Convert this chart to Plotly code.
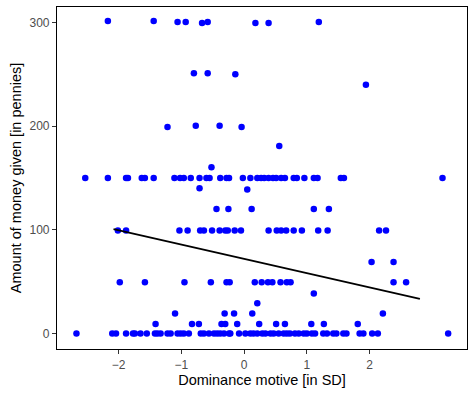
import plotly.graph_objects as go

# Dominance motive (x, SD units) for each amount given (pennies)
x_300 = [-2.17, -1.44, -1.06, -0.93, -0.67, -0.58, 0.18, 0.39, 1.19]
y_300 = [301.5, 301.5, 300.6, 300.6, 299.6, 300.6, 299.6, 299.6, 300.6]
x_250 = [-0.80, -0.58, -0.14]
y_250 = [251, 251, 250]
x_240 = [1.94]
y_240 = [240]
x_200 = [-1.22, -0.77, -0.39, -0.04]
y_200 = [199.3, 200.3, 200.3, 199.3]
x_180 = [0.56]
y_180 = [180.8]
x_160 = [-0.52]
y_160 = [160.4]
x_150 = [-2.53, -2.17, -1.88, -1.85, -1.63, -1.58, -1.44, -1.11, -1.02, -0.96,
         -0.85, -0.71, -0.60, -0.55, -0.38, -0.28, -0.24, -0.02, 0.10, 0.21,
         0.27, 0.32, 0.39, 0.46, 0.51, 0.59, 0.65, 0.79, 0.84, 0.96,
         1.11, 1.17, 1.54, 1.59, 3.16]
y_150 = [150] * len(x_150)
x_140 = [-0.71, 0.05]
y_140 = [140, 139]
x_120 = [-0.44, -0.25, 0.12, 1.11, 1.35]
y_120 = [120] * len(x_120)
x_100 = [-2.01, -1.88, -1.03, -0.90, -0.70, -0.64, -0.51, -0.39, -0.30, -0.26,
         -0.15, -0.05, 0.39, 0.52, 0.59, 0.67, 0.79, 0.92, 1.18, 1.33,
         2.15, 2.26]
y_100 = [99.3] * len(x_100)
x_70 = [2.03, 2.38]
y_70 = [69, 69]
x_50 = [-1.98, -1.58, -0.95, -0.53, -0.28, -0.23, 0.17, 0.28, 0.38, 0.45,
        0.58, 0.68, 0.74, 2.38, 2.58]
y_50 = [49.5] * len(x_50)
x_40 = [1.11]
y_40 = [38.6]
x_30 = [0.21]
y_30 = [29.2]
x_20 = [-1.10, -0.31, -0.16, 0.13, 2.21]
y_20 = [19.3] * len(x_20)
x_10 = [-1.41, -0.83, -0.72, -0.36, -0.30, -0.11, 0.24, 0.51, 0.65, 1.07,
        1.27, 1.81]
y_10 = [9.1] * len(x_10)
x_0 = [-2.67, -2.10, -2.04, -1.88, -1.77, -1.74, -1.65, -1.55, -1.42, -1.38,
       -1.33, -1.22, -1.17, -1.06, -1.01, -0.96, -0.88, -0.69, -0.64, -0.56,
       -0.48, -0.43, -0.38, -0.32, -0.24, -0.22, -0.08, 0.02, 0.10, 0.15,
       0.21, 0.29, 0.34, 0.42, 0.47, 0.55, 0.63, 0.68, 0.73, 0.81,
       0.87, 0.95, 1.00, 1.08, 1.13, 1.26, 1.32, 1.42, 1.47, 1.58,
       1.63, 1.84, 1.90, 2.04, 2.13, 3.25]
y_0 = [0] * len(x_0)

# Fitted line
line_x = [-2.08, 2.80]
line_y = [100.6, 33.4]

x_ticks = [-2, -1, 0, 1, 2]
y_ticks = [0, 100, 200, 300]

xs = (x_300 + x_250 + x_240 + x_200 + x_180 + x_160 + x_150 + x_140 + x_120
      + x_100 + x_70 + x_50 + x_40 + x_30 + x_20 + x_10 + x_0)
ys = (y_300 + y_250 + y_240 + y_200 + y_180 + y_160 + y_150 + y_140 + y_120
      + y_100 + y_70 + y_50 + y_40 + y_30 + y_20 + y_10 + y_0)

fig = go.Figure()
fig.add_trace(go.Scatter(
    x=xs, y=ys, mode="markers",
    marker=dict(color="#0000FF", size=6.5, line=dict(width=0)),
    showlegend=False, hoverinfo="skip"))
fig.add_trace(go.Scatter(
    x=line_x, y=line_y, mode="lines",
    line=dict(color="black", width=1.8),
    showlegend=False, hoverinfo="skip"))

axis_common = dict(
    showgrid=False, zeroline=False, automargin=False,
    showline=True, mirror=True, linecolor="black", linewidth=1.2,
    ticks="outside", ticklen=4, tickwidth=1, tickcolor="#333333",
    tickfont=dict(family="Liberation Sans, Arial, sans-serif", size=12, color="#4D4D4D"),
)

fig.update_layout(
    width=475, height=396,
    margin=dict(l=57, r=8, t=7, b=47),
    paper_bgcolor="white", plot_bgcolor="white",
    font=dict(family="Liberation Sans, Arial, sans-serif"),
    xaxis=dict(range=[-2.98, 3.55], tickvals=x_ticks,
               title=dict(text="Dominance motive [in SD]",
                          font=dict(size=14.5, color="black"), standoff=4),
               **axis_common),
    yaxis=dict(range=[-15, 315], tickvals=y_ticks,
               title=dict(text="Amount of money given [in pennies]",
                          font=dict(size=14.5, color="black"), standoff=4),
               **axis_common),
)

fig.write_html("out.html", config={"displayModeBar": False},
               post_script="document.body.style.margin='0';")
